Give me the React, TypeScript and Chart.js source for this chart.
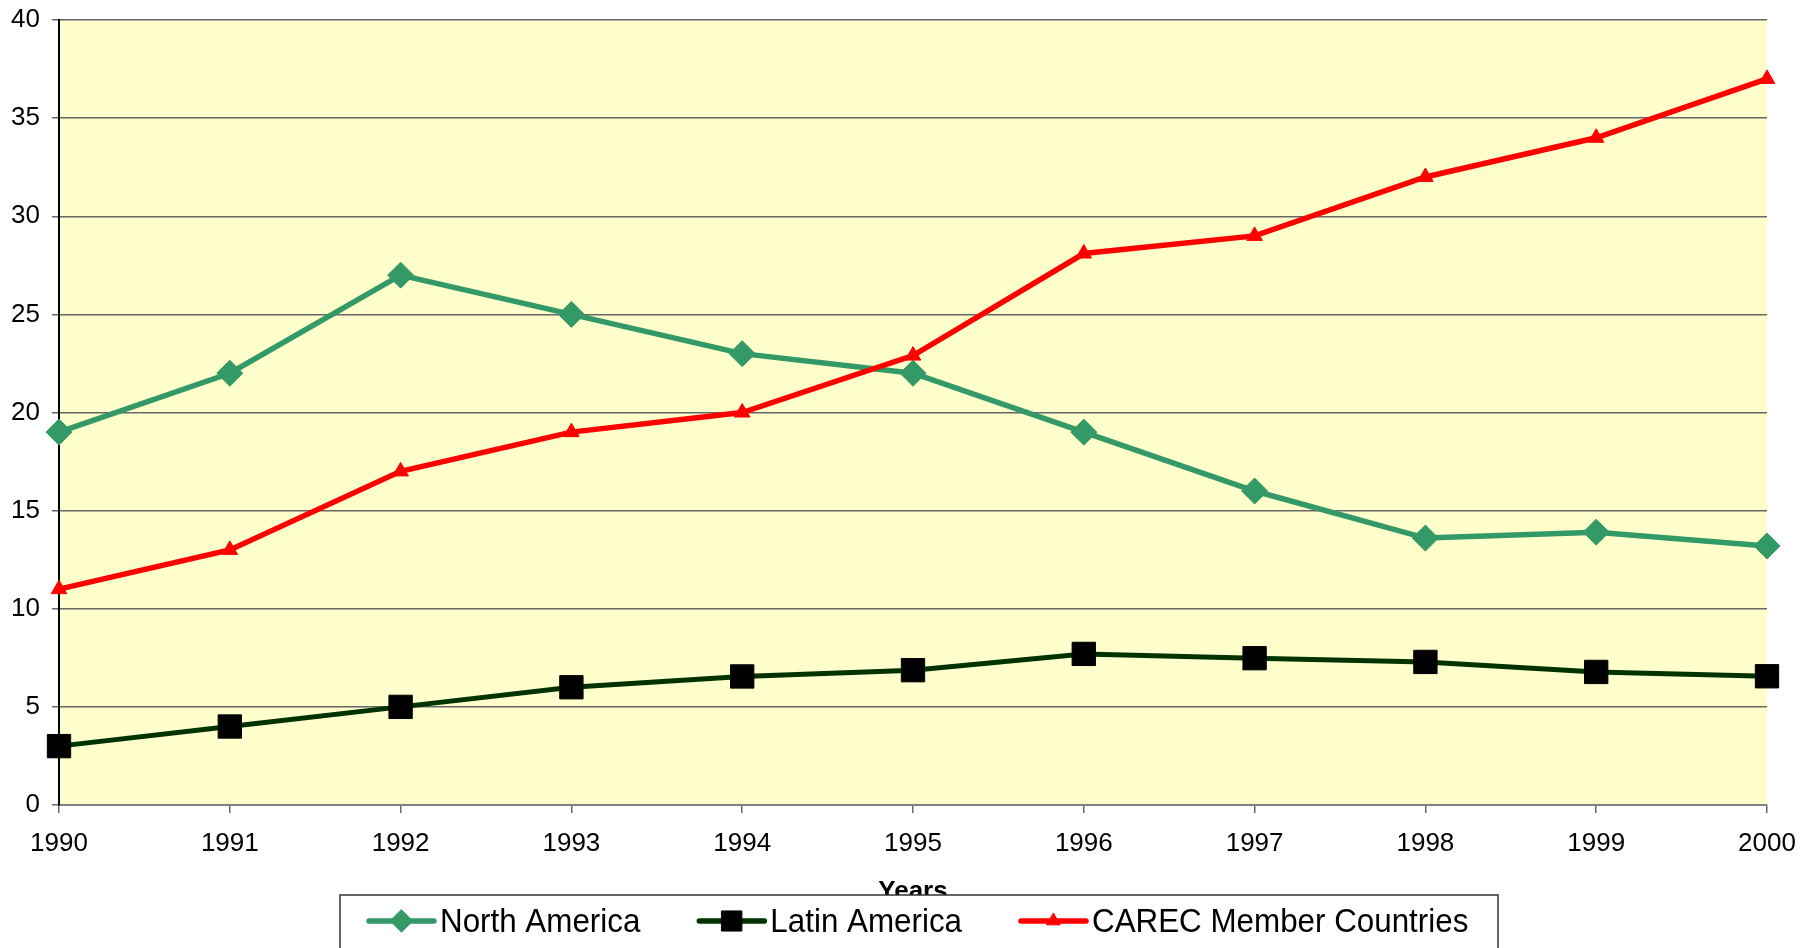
import React, { useEffect, useRef } from 'react';
import { Chart, registerables } from 'chart.js';

Chart.register(...registerables);

const years = ['1990', '1991', '1992', '1993', '1994', '1995', '1996', '1997', '1998', '1999', '2000'];
const northAmerica = [19, 22, 27, 25, 23, 22, 19, 16, 13.6, 13.9, 13.2];
const latinAmerica = [3, 4, 5, 6, 6.55, 6.87, 7.7, 7.48, 7.29, 6.78, 6.56];
const carec = [11, 13, 17, 19, 20, 22.9, 28.1, 29, 32, 34, 37];
const seriesNames = ['North America', 'Latin America', 'CAREC Member Countries'];
const yMin = 0;
const yMax = 40;
const yStep = 5;
const xTitle = 'Years';

const FONT = '"Liberation Sans", Arial, sans-serif';

const plotBg = {
  id: 'plotBg',
  beforeDraw(chart: any) {
    const { ctx, chartArea } = chart;
    ctx.save();
    ctx.fillStyle = '#ffffff';
    ctx.fillRect(0, 0, chart.width, chart.height);
    ctx.fillStyle = '#FFFFCC';
    ctx.fillRect(chartArea.left, chartArea.top, chartArea.right - chartArea.left, chartArea.bottom - chartArea.top);
    ctx.restore();
  },
};

function drawMarker(ctx: CanvasRenderingContext2D, style: string, x: number, y: number, r: number, fill: string, stroke: string) {
  ctx.save();
  ctx.fillStyle = fill;
  ctx.strokeStyle = stroke;
  ctx.lineWidth = 1;
  ctx.beginPath();
  if (style === 'rectRot') {
    ctx.moveTo(x, y - r);
    ctx.lineTo(x + r, y);
    ctx.lineTo(x, y + r);
    ctx.lineTo(x - r, y);
    ctx.closePath();
  } else if (style === 'rect') {
    const s = r * Math.SQRT1_2;
    ctx.rect(x - s, y - s, 2 * s, 2 * s);
  } else {
    ctx.moveTo(x, y - r);
    ctx.lineTo(x + r * Math.sin(Math.PI / 3), y + r / 2);
    ctx.lineTo(x - r * Math.sin(Math.PI / 3), y + r / 2);
    ctx.closePath();
  }
  ctx.fill();
  ctx.stroke();
  ctx.restore();
}

const boxLegend = {
  id: 'boxLegend',
  afterDraw(chart: any) {
    const { ctx } = chart;
    const boxLeft = 340;
    const boxRight = 1498;
    const boxTop = 895;
    const sx = 0.95;
    ctx.save();
    ctx.fillStyle = '#ffffff';
    ctx.fillRect(boxLeft, boxTop, boxRight - boxLeft, chart.height - boxTop + 10);
    ctx.strokeStyle = '#333333';
    ctx.lineWidth = 1.5;
    ctx.strokeRect(boxLeft, boxTop, boxRight - boxLeft, chart.height - boxTop + 10);
    const cy = 921;
    const baseline = 931.5;
    let x = 369;
    ctx.font = '33px ' + FONT;
    ctx.textBaseline = 'alphabetic';
    ctx.textAlign = 'left';
    chart.data.datasets.forEach((ds: any) => {
      ctx.strokeStyle = ds.borderColor;
      ctx.lineWidth = 5.5;
      ctx.lineCap = 'round';
      ctx.beginPath();
      ctx.moveTo(x, cy);
      ctx.lineTo(x + 65, cy);
      ctx.stroke();
      drawMarker(ctx, ds.pointStyle, x + 32.5, cy, ds.pointRadius * 0.86, ds.pointBackgroundColor, ds.pointBorderColor);
      ctx.fillStyle = '#000000';
      const tx = x + 71;
      ctx.save();
      ctx.translate(tx, baseline);
      ctx.scale(sx, 1);
      ctx.fillText(ds.label, 0, 0);
      ctx.restore();
      x = tx + ctx.measureText(ds.label).width * sx + 59;
    });
    ctx.restore();
  },
};

export default function App() {
  const ref = useRef<HTMLCanvasElement | null>(null);
  useEffect(() => {
    document.body.style.margin = '0';
    const canvas = ref.current;
    if (!canvas) return;
    const chart = new Chart(canvas, {
      type: 'line',
      data: {
        labels: years,
        datasets: [
          {
            label: seriesNames[0],
            data: northAmerica,
            borderColor: '#339966',
            borderWidth: 5.5,
            pointStyle: 'rectRot',
            pointRadius: 13,
            pointBackgroundColor: '#339966',
            pointBorderColor: '#339966',
            pointBorderWidth: 1,
            tension: 0,
            clip: false,
            order: 2,
          },
          {
            label: seriesNames[1],
            data: latinAmerica,
            borderColor: '#003300',
            borderWidth: 5,
            pointStyle: 'rect',
            pointRadius: 16.5,
            pointBackgroundColor: '#000000',
            pointBorderColor: '#000000',
            pointBorderWidth: 1,
            tension: 0,
            clip: false,
            order: 1,
          },
          {
            label: seriesNames[2],
            data: carec,
            borderColor: '#FF0000',
            borderWidth: 5.5,
            pointStyle: 'triangle',
            pointRadius: 9,
            pointBackgroundColor: '#FF0000',
            pointBorderColor: '#FF0000',
            pointBorderWidth: 1,
            tension: 0,
            clip: false,
            order: 0,
          },
        ] as any,
      },
      options: {
        responsive: false,
        animation: false,
        devicePixelRatio: 1,
        layout: { padding: { top: 20, right: 51, bottom: 41, left: 0 } },
        plugins: { legend: { display: false }, tooltip: { enabled: false }, title: { display: false } },
        scales: {
          x: {
            type: 'category',
            offset: false,
            ticks: { color: '#000', font: { size: 26, family: FONT }, padding: 15, maxRotation: 0, autoSkip: false },
            grid: { drawOnChartArea: false, color: '#666666', tickLength: 8, lineWidth: 1.5 },
            border: { color: '#808080', width: 2 },
            title: { display: true, text: xTitle, color: '#000', font: { size: 26, weight: 'bold', family: FONT }, padding: 0 },
            afterFit: (s: any) => { s.height = 102; s.paddingLeft = 0; s.paddingRight = 0; },
          },
          y: {
            min: yMin,
            max: yMax,
            ticks: { stepSize: yStep, color: '#000', font: { size: 26, family: FONT }, padding: 12 },
            grid: { color: '#666666', lineWidth: 1.5, tickLength: 7 },
            border: { color: '#000', width: 2 },
            afterFit: (s: any) => { s.width = 59; s.paddingTop = 0; s.paddingBottom = 0; },
          },
        },
      } as any,
      plugins: [plotBg, boxLegend],
    });
    return () => chart.destroy();
  }, []);
  return <canvas ref={ref} width={1818} height={948} style={{ display: 'block', width: 1818, height: 948 }} />;
}
